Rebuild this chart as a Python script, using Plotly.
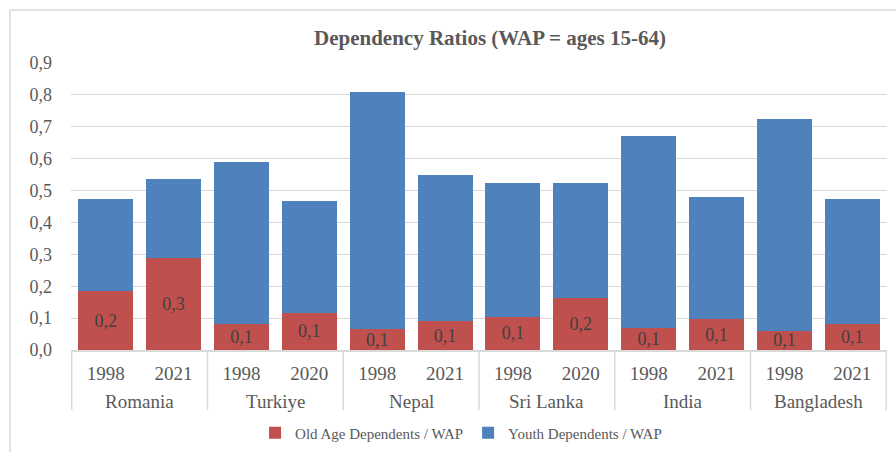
import plotly.graph_objects as go

countries = ["Romania", "Romania", "Turkiye", "Turkiye", "Nepal", "Nepal",
             "Sri Lanka", "Sri Lanka", "India", "India", "Bangladesh", "Bangladesh"]
years = ["1998", "2021", "1998", "2020", "1998", "2021",
         "1998", "2020", "1998", "2021", "1998", "2021"]
old_age = [0.185, 0.290, 0.080, 0.117, 0.065, 0.090,
           0.105, 0.163, 0.070, 0.097, 0.060, 0.083]
youth = [0.288, 0.246, 0.511, 0.349, 0.744, 0.458,
         0.420, 0.360, 0.600, 0.383, 0.665, 0.392]
y_ticks = [0.0, 0.1, 0.2, 0.3, 0.4, 0.5, 0.6, 0.7, 0.8, 0.9]

FONT = "Liberation Serif, Times New Roman, DejaVu Serif, serif"
GRAY = "#595959"
LINE = "#D9D9D9"

bar_keys = [f"{c} {y}" for c, y in zip(countries, years)]
groups = list(dict.fromkeys(countries))

fig = go.Figure()
fig.add_trace(go.Bar(
    x=bar_keys, y=old_age, name="Old Age Dependents / WAP",
    marker=dict(color="#C0504D", line=dict(width=0)),
    texttemplate="%{y:.1f}", textposition="inside", insidetextanchor="middle",
    constraintext="none", textangle=0,
    textfont=dict(family=FONT, size=18, color="#404040"),
))
fig.add_trace(go.Bar(
    x=bar_keys, y=youth, name="Youth Dependents / WAP",
    marker=dict(color="#4F81BD", line=dict(width=0)),
))

fig.update_layout(
    barmode="stack",
    bargap=0.19,
    separators=",.",
    width=896, height=452,
    margin=dict(l=71, r=9, t=63, b=102, autoexpand=False),
    paper_bgcolor="white", plot_bgcolor="white",
    font=dict(family=FONT, color=GRAY),
    title=dict(text="<b>Dependency Ratios (WAP = ages 15-64)</b>",
               x=490/896, xanchor="center", y=1 - 38/452, yanchor="middle",
               font=dict(family=FONT, size=21, color=GRAY)),
    legend=dict(orientation="h", x=0.478, xanchor="center", y=-83/287, yanchor="middle",
                traceorder="normal", font=dict(family=FONT, size=15, color=GRAY),
                itemwidth=30),
    showlegend=True,
)
fig.update_yaxes(range=[0, 0.9], tickvals=y_ticks, tickformat=".1f",
                 showgrid=True, gridcolor=LINE, gridwidth=1,
                 zeroline=False, showline=False, ticks="",
                 tickfont=dict(family=FONT, size=18, color=GRAY),
                 ticklabelstandoff=18, automargin=False)
fig.update_xaxes(type="category", tickvals=bar_keys, ticktext=years,
                 showline=True, linecolor=LINE, linewidth=1.5,
                 ticks="", ticklabelstandoff=5, automargin=False,
                 tickfont=dict(family=FONT, size=19, color=GRAY), showgrid=False)

# country labels under each pair of bars
for g, name in enumerate(groups):
    fig.add_annotation(x=2 * g + 0.5, xref="x", y=-51/287, yref="paper",
                       text=name, showarrow=False, yanchor="middle",
                       font=dict(family=FONT, size=19, color=GRAY))
# group dividers
for g in range(len(groups) + 1):
    fig.add_shape(type="line", xref="x", yref="paper",
                  x0=2 * g - 0.5, x1=2 * g - 0.5, y0=0, y1=-60/287,
                  line=dict(color=LINE, width=1.5))

# chart frame
fig.add_shape(type="line", xref="paper", yref="paper",
              x0=-61/816, x1=-61/816, y0=-0.5, y1=340/287,
              line=dict(color=LINE, width=1.5))
fig.add_shape(type="line", xref="paper", yref="paper",
              x0=-61/816, x1=1.02, y0=340/287, y1=340/287,
              line=dict(color=LINE, width=1.5))

fig.write_html("out.html", config={"displayModeBar": False},
               post_script="document.body.style.margin='0';")
